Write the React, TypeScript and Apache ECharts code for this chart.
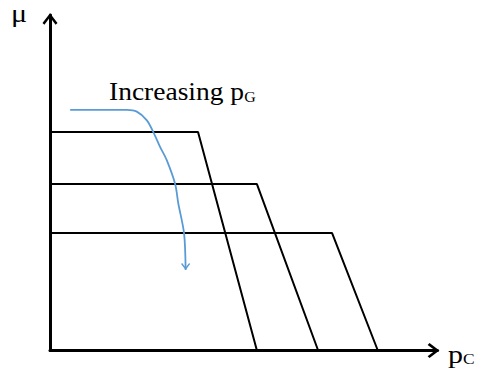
import React, { useEffect, useRef } from "react";
import * as echarts from "echarts";

// Schematic data (axis units 0..100)
const xRange = [0, 100];
const yRange = [0, 100];
const topCurve: number[][] = [[0, 65.1], [38.2, 65.1], [53.4, 0]];
const midCurve: number[][] = [[0, 49.6], [53.4, 49.6], [69.2, 0]];
const lowCurve: number[][] = [[0, 35.0], [72.8, 35.0], [84.6, 0]];
const arrowCurve: number[][] = [
  [5.2, 71.7], [19.8, 71.7], [22.4, 71.2], [25.0, 68.6], [26.7, 65.0],
  [28.4, 60.7], [30.1, 56.8], [32.3, 49.6], [33.1, 43.9], [34.6, 34.9], [35.0, 24.0],
];
const yLabel = "μ";
const xLabelMain = "p";
const xLabelSub = "C";
const annMain = "Increasing p";
const annSub = "G";

const FONT = "Liberation Serif, Times New Roman, serif";
const BLUE = "#5B9BD5";
const CHEVRON_UP = "path://M8,0 L16,10.5 L14,12.5 L8,4.5 L2,12.5 L0,10.5 Z";
const CHEVRON_DOWN = "path://M1,0 L4.5,4.5 L8,0 L9,1 L4.5,7 L0,1 Z";

export default function App() {
  const ref = useRef<HTMLDivElement>(null);
  useEffect(() => {
    if (!ref.current) return;
    const chart = echarts.init(ref.current, undefined, { renderer: "svg" });
    const axisLine = {
      show: true,
      lineStyle: { color: "#000", width: 3 },
      symbol: ["none", CHEVRON_UP],
      symbolSize: [15, 13],
      symbolOffset: [0, -4],
    };
    const blackLine = (data: number[][]) => ({
      type: "line",
      data,
      symbol: "none",
      silent: true,
      lineStyle: { color: "#000", width: 2 },
      emphasis: { disabled: true },
    });
    const arrowData = arrowCurve.map((p, i) =>
      i === arrowCurve.length - 1
        ? {
            value: p,
            symbol: CHEVRON_DOWN,
            symbolSize: [9, 7],
            symbolOffset: [0, -3.5],
            symbolKeepAspect: false,
          }
        : { value: p, symbol: "none" }
    );
    const rich = {
      a: { fontFamily: FONT, fontSize: 25, lineHeight: 25, fill: "#000" },
      b: { fontFamily: FONT, fontSize: 14.5, lineHeight: 16, verticalAlign: "bottom", fill: "#000" },
    };
    chart.setOption({
      animation: false,
      backgroundColor: "#fff",
      grid: { left: 50, right: 41.5, top: 15, bottom: 21.5, containLabel: false },
      xAxis: {
        type: "value",
        min: xRange[0],
        max: xRange[1],
        axisLine,
        axisTick: { show: false },
        axisLabel: { show: false },
        splitLine: { show: false },
      },
      yAxis: {
        type: "value",
        min: yRange[0],
        max: yRange[1],
        axisLine,
        axisTick: { show: false },
        axisLabel: { show: false },
        splitLine: { show: false },
      },
      series: [
        blackLine(topCurve),
        blackLine(midCurve),
        blackLine(lowCurve),
        {
          type: "line",
          data: arrowData,
          smooth: 0.3,
          silent: true,
          lineStyle: { color: BLUE, width: 1.8 },
          itemStyle: { color: BLUE, borderWidth: 0 },
          emphasis: { disabled: true },
        },
      ],
      graphic: [
        {
          type: "text",
          x: 11,
          y: 1,
          scaleX: 1.2,
          style: {
            text: yLabel,
            fontFamily: FONT,
            fontSize: 25,
            lineHeight: 25,
            fill: "#000",
            align: "left",
            verticalAlign: "top",
          },
        },
        {
          type: "text",
          x: 109,
          y: 79,
          scaleX: 1.1,
          style: {
            text: `{a|${annMain}}{b|${annSub}}`,
            fontFamily: FONT,
            fill: "#000",
            align: "left",
            verticalAlign: "top",
            rich,
          },
        },
        {
          type: "text",
          x: 448,
          y: 341.5,
          scaleX: 1.2,
          style: {
            text: `{a|${xLabelMain}}{b|${xLabelSub}}`,
            fontFamily: FONT,
            fill: "#000",
            align: "left",
            verticalAlign: "top",
            rich,
          },
        },
      ],
    });
    return () => chart.dispose();
  }, []);
  return (
    <div
      ref={ref}
      style={{ position: "fixed", left: 0, top: 0, width: 479, height: 372 }}
    />
  );
}
